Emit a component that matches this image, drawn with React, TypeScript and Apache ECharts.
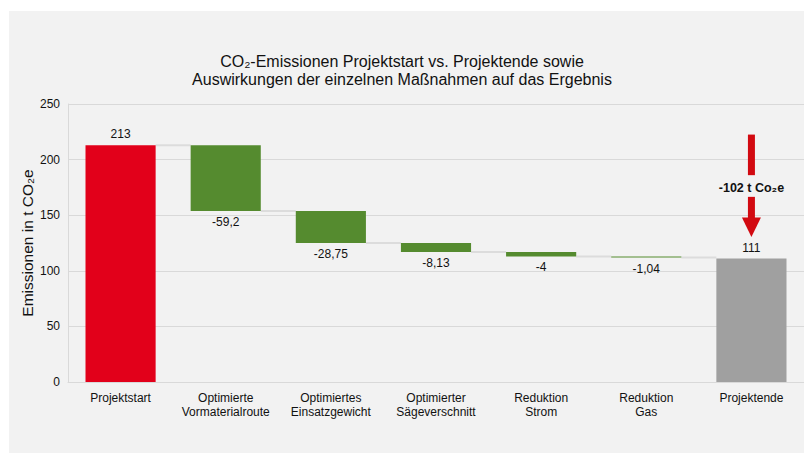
import React, { useEffect, useRef } from "react";
import * as echarts from "echarts";

const categories = [
  "Projektstart",
  "Optimierte\nVormaterialroute",
  "Optimiertes\nEinsatzgewicht",
  "Optimierter\nSägeverschnitt",
  "Reduktion\nStrom",
  "Reduktion\nGas",
  "Projektende",
];
const startValue = 213;
const deltas = [-59.2, -28.75, -8.13, -4, -1.04];
const endValue = 111;
const yTicks = { min: 0, max: 250, interval: 50 };
const annotationText = "-102 t Co₂e";

const RED = "#e2001a";
const GREEN = "#558b2f";
const GRAY = "#a0a0a0";
const FONT = "Liberation Sans, Arial, sans-serif";

function fmt(v: number) {
  return String(v).replace(".", ",");
}

export default function App() {
  const ref = useRef<HTMLDivElement>(null);
  useEffect(() => {
    if (!ref.current) return;
    const chart = echarts.init(ref.current, undefined, { renderer: "svg" });

    const levels: number[] = [startValue];
    deltas.forEach((d) => levels.push(+(levels[levels.length - 1] + d).toFixed(2)));
    const base: number[] = [0];
    const vals: any[] = [];
    vals.push({ value: startValue, itemStyle: { color: RED }, label: { position: "top", formatter: fmt(startValue) } });
    deltas.forEach((d, i) => {
      base.push(levels[i + 1]);
      vals.push({ value: -d, itemStyle: { color: GREEN }, label: { position: "bottom", formatter: fmt(d) } });
    });
    base.push(0);
    vals.push({ value: endValue, itemStyle: { color: GRAY }, label: { position: "top", formatter: fmt(endValue) } });

    const connectors = levels.map((lv, i) => [i, lv]);
    const BAR_RATIO = 0.667;

    chart.setOption({
      animation: false,
      backgroundColor: "transparent",
      textStyle: { fontFamily: FONT },
      title: {
        text: "CO₂-Emissionen Projektstart vs. Projektende sowie\nAuswirkungen der einzelnen Maßnahmen auf das Ergebnis",
        left: "center",
        top: 52,
        padding: 0,
        textStyle: { fontSize: 16, fontWeight: "normal", color: "#111", lineHeight: 18, fontFamily: FONT },
      },
      grid: { left: 68, right: 0, top: 104, bottom: 71 },
      xAxis: {
        type: "category",
        data: categories,
        axisLine: { lineStyle: { color: "#d9d9d9" } },
        axisTick: { show: false },
        axisLabel: { fontSize: 12, color: "#111", lineHeight: 14, margin: 9, interval: 0, fontFamily: FONT },
      },
      yAxis: {
        type: "value",
        min: yTicks.min,
        max: yTicks.max,
        interval: yTicks.interval,
        name: "Emissionen in t CO₂e",
        nameLocation: "middle",
        nameGap: 33,
        nameMoveOverlap: false,
        nameTextStyle: { fontSize: 15.5, color: "#111", fontFamily: FONT },
        axisLine: { show: true, lineStyle: { color: "#d9d9d9" } },
        axisTick: { show: false },
        splitLine: { lineStyle: { color: "#d9d9d9", width: 1 } },
        axisLabel: { fontSize: 12, color: "#111", margin: 8, fontFamily: FONT },
      },
      series: [
        {
          type: "custom",
          z: 1,
          silent: true,
          data: connectors,
          renderItem: (params: any, api: any) => {
            const i = api.value(0);
            if (i >= categories.length - 1) return null;
            const lv = api.value(1);
            const p1 = api.coord([i, lv]);
            const p2 = api.coord([i + 1, lv]);
            const hw = (api.size([1, 0])[0] * BAR_RATIO) / 2;
            return {
              type: "line",
              shape: { x1: p1[0] + hw, y1: p1[1], x2: p2[0] - hw, y2: p2[1] },
              style: { stroke: "#dcdcdc", lineWidth: 2 },
            };
          },
        },
        {
          type: "bar",
          stack: "w",
          barWidth: "66.7%",
          itemStyle: { color: "transparent" },
          data: base,
          silent: true,
          z: 2,
        },
        {
          type: "bar",
          stack: "w",
          barWidth: "66.7%",
          data: vals,
          z: 3,
          label: { show: true, fontSize: 12, color: "#111", distance: 5, fontFamily: FONT },
        },
      ],
    });

    const last = categories.length - 1;
    const px = (v: number) => chart.convertToPixel({ gridIndex: 0 } as any, [last, v]) as number[];
    const cx = px(0)[0];
    const yTop = px(222.5)[1];
    const yLine1End = px(186)[1];
    const yText = px(174.5)[1];
    const yShaft2 = px(166.5)[1];
    const yHead = px(148)[1];
    const yTip = px(130.5)[1];
    const sw = 7;
    const hw = 9.5;
    chart.setOption({
      graphic: [
        { type: "rect", shape: { x: cx - sw / 2, y: yTop, width: sw, height: yLine1End - yTop }, style: { fill: "#d20a11" }, z: 10 },
        { type: "rect", shape: { x: cx - sw / 2, y: yShaft2, width: sw, height: yHead - yShaft2 + 1 }, style: { fill: "#d20a11" }, z: 10 },
        {
          type: "polygon",
          shape: { points: [[cx - hw, yHead], [cx + hw, yHead], [cx, yTip]] },
          style: { fill: "#d20a11" },
          z: 10,
        },
        {
          type: "text",
          x: cx,
          y: yText,
          style: {
            text: annotationText,
            fill: "#111",
            font: "bold 12.5px " + FONT,
            textAlign: "center",
            textVerticalAlign: "middle",
          },
          z: 10,
        },
      ],
    });

    return () => chart.dispose();
  }, []);

  return (
    <div style={{ position: "fixed", left: 0, top: 0, width: 804, height: 453, background: "#ffffff" }}>
      <div style={{ position: "absolute", left: 9, top: 11, right: 0, bottom: 0, background: "#f2f2f2" }} />
      <div ref={ref} style={{ position: "absolute", left: 0, top: 0, width: 804, height: 453 }} />
    </div>
  );
}
